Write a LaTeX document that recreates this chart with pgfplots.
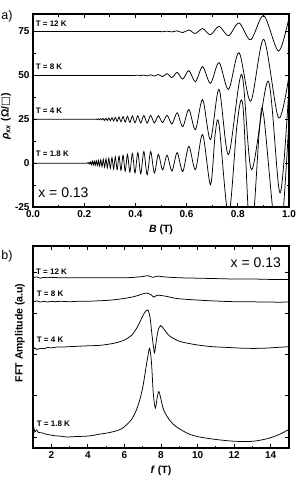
\documentclass[border=0pt]{standalone}
\usepackage{fontspec}
\setmainfont{Liberation Sans}
\newfontfamily\dejavu{DejaVu Sans}
\usepackage{pgfplots}
\pgfplotsset{compat=1.18}
\begin{document}
\begin{tikzpicture}[x=1pt,y=1pt]
\useasboundingbox (-33,-281) rectangle (266,207);
\pgfplotsset{
  crv/.style={black, solid, line width=0.75pt, smooth, mark=none},
  common/.style={
    scale only axis, width=256pt,
    axis line style={line width=1.1pt},
    every tick/.style={line width=0.8pt, black},
    major tick length=4pt, minor tick length=2.5pt,
    tick align=inside,
    ticklabel style={font=\fontsize{10}{12}\selectfont\bfseries},
    /pgf/number format/assume math mode=true,
    label style={font=\fontsize{10.5}{12}\selectfont\bfseries},
  }
}
% ---------------- panel a ----------------
\begin{axis}[common, at={(0pt,0pt)}, anchor=south west, height=193pt,
  xmin=0, xmax=1, ymin=-25, ymax=85,
  xtick={0,0.2,0.4,0.6,0.8,1.0}, minor xtick={0.1,0.3,0.5,0.7,0.9},
  ytick={-25,0,25,50,75}, minor ytick={-12.5,12.5,37.5,62.5},
  xticklabel style={/pgf/number format/.cd, fixed, fixed zerofill, precision=1},
  xlabel={\textit{B} (T)},
  ylabel={\textit{ρ}\textsubscript{\textit{xx}} (Ω/{\dejavu\bfseries □})},
  ylabel style={at={([xshift=-27pt]axis description cs:0,0.47)}, anchor=center},
]
% T = 12 K
\addplot[crv] coordinates {(0,75) (0.1,75) (0.2,75) (0.3,75) (0.4,75) (0.45,75.0) (0.4741,75.0)
(0.4896,75.1) (0.5061,74.9) (0.5237,75.2) (0.5427,74.8) (0.5631,75.4) (0.5850,74.4)
(0.6088,75.9) (0.6345,73.9) (0.6626,76.7) (0.6932,73.2) (0.7267,78.0) (0.7638,72.6)
(0.8047,79.9) (0.8503,70.3) (0.9014,84.1) (0.9591,63.9) (1.0,83.0)};
% T = 8 K
\addplot[crv] coordinates {(0,50) (0.1,50) (0.2,50) (0.3,50) (0.36,50) (0.3985,50.0)
(0.4094,50.15) (0.4209,49.85) (0.4330,50.2) (0.4459,49.75) (0.4596,50.35) (0.4741,49.6)
(0.4896,50.55) (0.5061,49.3) (0.5237,51.0) (0.5427,48.8) (0.5631,51.7) (0.5850,47.9)
(0.6088,52.8) (0.6345,46.4) (0.6626,55.0) (0.6932,45.5) (0.7267,57.3) (0.7638,42.0)
(0.8047,63.0) (0.8503,35.3) (0.9014,70.6) (0.9591,25.8) (1.0,50.0)};
% T = 4 K
\addplot[crv] coordinates {(0,25) (0.1,25) (0.2,25) (0.24,25) (0.2433,25.0)
(0.2474,25.2) (0.2515,24.8) (0.2558,25.3) (0.2602,24.7) (0.2648,25.4) (0.2696,24.6)
(0.2745,25.5) (0.2796,24.4) (0.2850,25.6) (0.2905,24.3) (0.2962,25.8) (0.3022,24.1)
(0.3084,25.9) (0.3149,24.0) (0.3216,26.1) (0.3287,23.8) (0.3360,26.3) (0.3437,23.6)
(0.3518,26.5) (0.3602,23.4) (0.3691,26.7) (0.3784,23.2) (0.3882,26.9) (0.3985,23.0)
(0.4094,27.0) (0.4209,22.9) (0.4330,27.2) (0.4459,22.8) (0.4596,27.2) (0.4741,22.9)
(0.4896,27.0) (0.5061,23.1) (0.5237,27.3) (0.5427,22.3) (0.5631,28.7) (0.5850,20.8)
(0.6088,30.6) (0.6345,19.1) (0.6626,36.3) (0.6932,13.4) (0.7267,42.0) (0.7638,4.9)
(0.8150,50.6) (0.8540,-3.7) (0.9190,46.7) (0.9650,-17.0) (1.0,43.9)};
% T = 1.8 K
\addplot[crv] coordinates {(0,0) (0.1,0) (0.2,0) (0.209,0)
(0.2123,0.2) (0.2154,-0.2) (0.2185,0.4) (0.2218,-0.5) (0.2251,0.7) (0.2285,-0.8)
(0.2321,1.0) (0.2357,-1.0) (0.2395,1.2) (0.2433,-1.2) (0.2474,1.4) (0.2515,-1.4)
(0.2558,1.6) (0.2602,-1.7) (0.2648,1.9) (0.2696,-2.0) (0.2745,2.2) (0.2796,-2.3)
(0.2850,2.5) (0.2905,-2.6) (0.2962,2.8) (0.3022,-2.9) (0.3084,3.2) (0.3149,-3.3)
(0.3216,3.6) (0.3287,-3.7) (0.3360,4.0) (0.3437,-4.1) (0.3518,4.5) (0.3602,-4.6)
(0.3691,5.0) (0.3784,-5.1) (0.3882,5.5) (0.3985,-5.6) (0.4094,6.0) (0.4209,-6.1)
(0.4330,6.6) (0.4459,-6.6) (0.4596,6.6) (0.4741,-5.6) (0.4896,5.0) (0.5061,-3.8)
(0.5237,4.5) (0.5427,-4.5) (0.5631,6.0) (0.5850,-4.8) (0.6088,9.6) (0.6345,-3.7)
(0.6626,16.3) (0.6932,-12.3) (0.712,17.0) (0.7267,22.0) (0.7638,-30.0)
(0.797,22.0) (0.8200,32.5) (0.8503,-45.0) (0.885,20.0) (0.9014,26.7) (0.9591,-50.0) (1.0,25.0)};
\node[anchor=west, inner sep=0, font=\fontsize{8}{9}\selectfont\bfseries] at (axis cs:0.01,79.7) {T = 12 K};
\node[anchor=west, inner sep=0, font=\fontsize{8}{9}\selectfont\bfseries] at (axis cs:0.01,55.1) {T = 8 K};
\node[anchor=west, inner sep=0, font=\fontsize{8}{9}\selectfont\bfseries] at (axis cs:0.01,29.7) {T = 4 K};
\node[anchor=west, inner sep=0, font=\fontsize{8}{9}\selectfont\bfseries] at (axis cs:0.01,5.1) {T = 1.8 K};
\node[anchor=west, inner sep=0, font=\fontsize{14}{16}\selectfont] at (axis cs:0.02,-16.6) {x = 0.13};
\end{axis}
% ---------------- panel b ----------------
\begin{axis}[common, at={(0pt,-241pt)}, anchor=south west, height=202pt,
  xmin=1, xmax=15, ymin=-0.267, ymax=4.63,
  xtick={2,4,6,8,10,12,14}, minor xtick={1,3,5,7,9,11,13,15},
  ytick={0,1,2,3,4}, yticklabels={},
  xlabel={\textit{f} (T)},
  ylabel={FFT Amplitude (a.u)},
  ylabel style={at={([xshift=-13pt]axis description cs:0,0.57)}, anchor=center},
]
% 12 K
\addplot[crv] coordinates {(1.0,3.86) (1.2,3.88) (1.4,3.85) (1.6,3.87) (1.8,3.86) (2,3.87) (2.5,3.86)
(3,3.86) (4,3.86) (5,3.86) (6,3.86) (6.5,3.87) (7,3.89) (7.3,3.91) (7.55,3.87) (7.8,3.90)
(8.2,3.88) (9,3.86) (10,3.85) (11,3.84) (12,3.83) (13,3.83) (14,3.82) (15,3.82)};
% 8 K
\addplot[crv] coordinates {(1.0,3.27) (1.2,3.30) (1.4,3.27) (1.6,3.29) (1.8,3.27) (2.0,3.29)
(2.2,3.28) (2.5,3.29) (3,3.28) (3.5,3.29) (4,3.29) (4.5,3.30) (5,3.31) (5.5,3.33)
(6,3.36) (6.5,3.40) (6.8,3.44) (7.0,3.47) (7.25,3.49) (7.45,3.45) (7.61,3.39) (7.72,3.42)
(7.85,3.44) (8.0,3.43) (8.3,3.41) (8.6,3.38) (9.0,3.35) (10,3.32) (10.8,3.30) (12,3.28)
(12.6,3.28) (14,3.27) (15,3.27)};
% 4 K
\addplot[crv] coordinates {(1.0,2.10) (1.1,2.16) (1.2,2.12) (1.4,2.15) (1.6,2.14) (1.8,2.17)
(2.0,2.16) (2.3,2.18) (2.6,2.18) (3,2.19) (3.5,2.20) (4,2.21) (4.6,2.22) (5,2.24)
(5.5,2.28) (6.0,2.35) (6.4,2.47) (6.7,2.66) (6.9,2.84) (7.1,3.01) (7.28,3.08) (7.4,2.9)
(7.5,2.5) (7.6,2.15) (7.65,2.04) (7.75,2.35) (7.85,2.6) (7.98,2.70) (8.15,2.62)
(8.47,2.45) (9.0,2.32) (9.5,2.27) (10,2.23) (10.8,2.19) (11.7,2.17) (12.6,2.15)
(13.5,2.15) (14.3,2.17) (15,2.19)};
% 1.8 K
\addplot[crv] coordinates {(1.0,0.15) (1.05,0.22) (1.1,0.12) (1.2,0.17) (1.3,0.11) (1.5,0.10)
(1.7,0.07) (1.93,0.05) (2.2,0.03) (2.5,0.02) (2.84,0.0) (3.3,0.01) (3.93,0.02)
(4.3,0.04) (4.65,0.07) (5.1,0.10) (5.56,0.15) (5.85,0.20) (6.1,0.29) (6.4,0.43)
(6.65,0.65) (6.85,0.92) (7.01,1.22) (7.15,1.6) (7.28,1.95) (7.38,2.15) (7.48,1.8)
(7.58,1.05) (7.69,0.70) (7.79,0.95) (7.88,1.10) (7.98,0.95) (8.15,0.65) (8.47,0.41)
(8.8,0.26) (9.19,0.15) (9.6,0.06) (10.1,0.0) (11,-0.06) (11.9,-0.10) (12.8,-0.11)
(13.4,-0.08) (13.9,-0.03) (14.3,0.03) (14.6,0.09) (14.95,0.17) (15,0.18)};
\node[anchor=west, inner sep=0, font=\fontsize{8}{9}\selectfont\bfseries] at (axis cs:1.16,4.0) {T = 12 K};
\node[anchor=west, inner sep=0, font=\fontsize{8}{9}\selectfont\bfseries] at (axis cs:1.2,3.48) {T = 8 K};
\node[anchor=west, inner sep=0, font=\fontsize{8}{9}\selectfont\bfseries] at (axis cs:1.2,2.35) {T = 4 K};
\node[anchor=west, inner sep=0, font=\fontsize{8}{9}\selectfont\bfseries] at (axis cs:1.2,0.33) {T = 1.8 K};
\node[anchor=east, inner sep=0, font=\fontsize{14}{16}\selectfont] at (axis cs:14.57,4.22) {x = 0.13};
\end{axis}
\node[font=\fontsize{12.5}{14}\selectfont] at (-26,191) {a)};
\node[font=\fontsize{12.5}{14}\selectfont] at (-26,-49) {b)};
\end{tikzpicture}
\end{document}
